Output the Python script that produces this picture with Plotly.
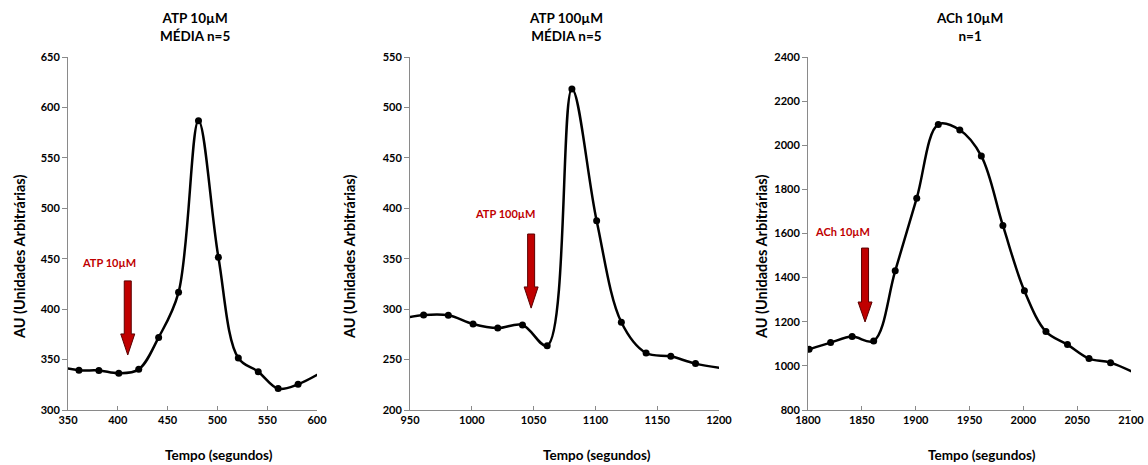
import plotly.graph_objects as go

W, H = 1148, 465

# ATP 10µM (média n=5)
t_atp10 = [341, 361, 381, 401, 421, 441, 461, 481, 501, 521, 541, 561, 581, 621]
au_atp10 = [343, 339.4, 339.2, 336.4, 340.3, 372, 416.7, 586.9, 451.4, 351.6, 338, 321.2, 325.5, 347]

# ATP 100µM (média n=5)
t_atp100 = [941, 961, 981, 1001, 1021, 1041, 1061, 1081, 1101, 1121, 1141, 1161, 1181, 1221]
au_atp100 = [290, 294.2, 294, 285.3, 281.3, 284.3, 263.8, 518.3, 387.7, 287, 256.5, 253.2, 246, 238.5]

# ACh 10µM (n=1)
t_ach10 = [1801, 1821, 1841, 1861, 1881, 1901, 1921, 1941, 1961, 1981, 2001, 2021, 2041, 2061, 2081, 2121]
au_ach10 = [1075, 1105.5, 1132.7, 1113, 1430.6, 1760.3, 2094.5, 2068.8, 1950.9, 1636.3, 1340, 1155.4, 1096.4, 1033, 1014.7, 925]

titles = ["ATP 10µM<br>MÉDIA n=5", "ATP 100µM<br>MÉDIA n=5", "ACh 10µM<br>n=1"]
x_ranges = [[350, 600], [950, 1200], [1800, 2100]]
y_ranges = [[300, 650], [200, 550], [800, 2400]]
x_dticks = [50, 50, 50]
y_dticks = [50, 50, 200]

# stimulus arrows: label, x, top, head start, tip, label x, label y
stim_labels = ["ATP 10µM", "ATP 100µM", "ACh 10µM"]
stim_x = [410, 1048, 1853]
stim_top = [428, 374.5, 1534]
stim_head = [375.4, 322, 1289.5]
stim_tip = [354.5, 301, 1199]
lab_x = [391, 1027, 1832]
lab_y = [446, 395, 1607]

# panel placement in pixels
px_left = [68, 410, 808]
px_right = [317, 719, 1131]
px_top, px_bottom = 57, 410

font = "Lato, Calibri, Arial, sans-serif"
series = [(t_atp10, au_atp10), (t_atp100, au_atp100), (t_ach10, au_ach10)]

fig = go.Figure()
shapes = []
annotations = []

for i, (tx, ty) in enumerate(series):
    n = "" if i == 0 else str(i + 1)
    fig.add_trace(go.Scatter(
        x=tx, y=ty, xaxis="x" + n, yaxis="y" + n, mode="lines+markers",
        line=dict(color="black", width=2.5, shape="spline", smoothing=1),
        marker=dict(color="black", size=7), showlegend=False))

    xd = [px_left[i] / W, px_right[i] / W]
    yd = [1 - px_bottom / H, 1 - px_top / H]
    axis_common = dict(showgrid=False, zeroline=False, showline=True, linecolor="#8a8a8a",
                       linewidth=1, tickcolor="#8a8a8a", mirror=False, automargin=False,
                       tickfont=dict(family=font, size=11, color="black", weight="bold"))
    fig.update_layout(**{
        "xaxis" + n: dict(domain=xd, range=x_ranges[i], anchor="y" + n, dtick=x_dticks[i],
                          ticks="inside", ticklen=4, **axis_common),
        "yaxis" + n: dict(domain=yd, range=y_ranges[i], anchor="x" + n, dtick=y_dticks[i],
                          ticks="outside", ticklen=5, **axis_common),
    })

    cx = (px_left[i] + px_right[i]) / 2
    centered = dict(xref="paper", yref="paper", xanchor="center", yanchor="middle", showarrow=False)
    annotations.append(dict(text="<b>" + titles[i].replace("<br>", "</b><br><b>") + "</b>",
                            x=(cx + [2, 1, 0][i]) / W, y=1 - 27 / H,
                            font=dict(family=font, size=13.5, color="black"), **centered))
    annotations.append(dict(text="<b>Tempo (segundos)</b>", x=(cx + [26, 32, 12][i]) / W,
                            y=1 - 455 / H, font=dict(family=font, size=13.5, color="black"),
                            **centered))
    annotations.append(dict(text="<b>AU (Unidades Arbitrárias)</b>",
                            x=[19, 349, 761][i] / W, y=1 - 257 / H, textangle=-90,
                            font=dict(family=font, size=14.5, color="black"), **centered))

    # arrow drawn as filled path in data units
    ux = (x_ranges[i][1] - x_ranges[i][0]) / (px_right[i] - px_left[i])
    sw, hw = 3.5 * ux, 7 * ux
    xc = stim_x[i]
    path = (f"M {xc - sw} {stim_top[i]} L {xc + sw} {stim_top[i]} L {xc + sw} {stim_head[i]} "
            f"L {xc + hw} {stim_head[i]} L {xc} {stim_tip[i]} L {xc - hw} {stim_head[i]} "
            f"L {xc - sw} {stim_head[i]} Z")
    shapes.append(dict(type="path", path=path, xref="x" + n, yref="y" + n,
                       fillcolor="#C00000", line=dict(color="#5a0000", width=1)))
    annotations.append(dict(text="<b>" + stim_labels[i] + "</b>", x=lab_x[i], y=lab_y[i],
                            xref="x" + n, yref="y" + n, showarrow=False,
                            font=dict(family=font, size=11, color="#C00000")))

fig.update_layout(width=W, height=H, margin=dict(l=0, r=0, t=0, b=0),
                  paper_bgcolor="white", plot_bgcolor="white",
                  shapes=shapes, annotations=annotations)

page_css = ("var s=document.createElement('style');"
            "s.textContent='html,body{margin:0;padding:0;overflow:hidden;width:1148px;height:465px;}';"
            "document.head.appendChild(s);")
fig.write_html("out.html", config={"displayModeBar": False}, post_script=page_css)
